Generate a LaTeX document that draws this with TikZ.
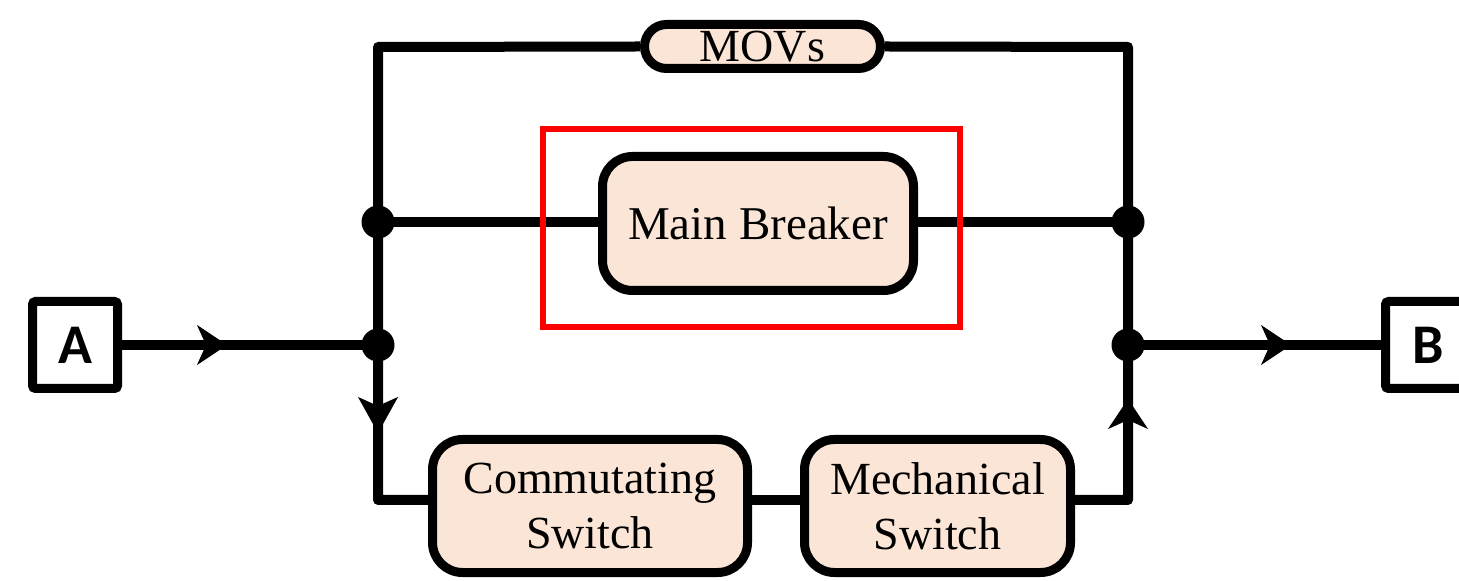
\documentclass[tikz,border=0pt]{standalone}
\usepackage{fontspec}
\setmainfont{Liberation Serif}
\newfontfamily\labfont{Carlito}
\usetikzlibrary{arrows.meta}
\definecolor{peach}{HTML}{FBE5D6}
\definecolor{hired}{HTML}{FF0000}
\begin{document}
\begin{tikzpicture}[x=0.5pt,y=-0.5pt,
  wire/.style={line width=5pt,line join=round},
  flow/.style={wire,-{Stealth[length=15pt,width=20pt,inset=4.5pt,line width=0.5pt]}},
  blk/.style={draw,line width=4.5pt,fill=peach,rounded corners=15pt,inner sep=0pt,align=center,font=\fontsize{23}{27.5}\selectfont},
  term/.style={draw,line width=4.5pt,fill=white,rounded corners=1.5pt,inner sep=0pt,minimum width=42.5pt,minimum height=43.5pt,font=\labfont\bfseries\fontsize{28}{30}\selectfont},
  junc/.style={circle,fill=black,inner sep=0pt,minimum size=16.5pt}
]
\useasboundingbox (0,0) rectangle (1459,581);
% terminals
\node[term] (A) at (75,345) {A};
\node[term] (B) at (1428,345) {B};
% blocks
\node[blk,minimum width=155.5pt,minimum height=67pt,font=\fontsize{23.5}{28}\selectfont] (mb) at (758,223.5) {Main Breaker};
\node[blk,minimum width=118pt,minimum height=22pt,rounded corners=11pt] (movs) at (762.5,46.5) {MOVs};
\node[blk,minimum width=157.5pt,minimum height=66.5pt] (cs) at (590,506) {Commutating\\Switch};
\node[blk,minimum width=133pt,minimum height=66.5pt] (ms) at (937.5,506) {Mechanical\\Switch};
% corner coordinates
\coordinate (cTL) at (378,47);
\coordinate (cTR) at (1128,47);
\coordinate (cBL) at (378,500);
\coordinate (cBR) at (1128,500);
\coordinate (pL1) at (378,222);
\coordinate (pL2) at (378,345);
\coordinate (pR1) at (1128,222);
\coordinate (pR2) at (1128,345);
% arrow tip points
\coordinate (tA) at (227,345);
\coordinate (tB) at (1291,345);
\coordinate (tL) at (378,433);
\coordinate (tR) at (1128,399);
% wires
\draw[wire] (movs.west) -- (cTL) -- (cBL) -- (cs.west |- cBL);
\draw[wire] (movs.east) -- (cTR) -- (cBR) -- (ms.east |- cBR);
\draw[wire] (cs.east |- cBL) -- (ms.west |- cBL);
\draw[wire] (pL1) -- (mb.west |- pL1);
\draw[wire] (mb.east |- pR1) -- (pR1);
\draw[wire] (A.east) -- (pL2);
\draw[wire] (pR2) -- (B.west);
\draw[flow] (A.east) -- (tA);
\draw[flow] (pR2) -- (tB);
\draw[flow,-{Stealth[length=18pt,width=20pt,inset=4.5pt,line width=0.5pt]}] (pL2) -- (tL);
\draw[flow] (cBR) -- (tR);
% junction dots
\node[junc] (jL1) at (pL1) {};
\node[junc] (jL2) at (pL2) {};
\node[junc] (jR1) at (pR1) {};
\node[junc] (jR2) at (pR2) {};
% highlight
\draw[hired,line width=3pt] (542.5,129.5) rectangle (959.5,327.5);
\end{tikzpicture}
\end{document}
